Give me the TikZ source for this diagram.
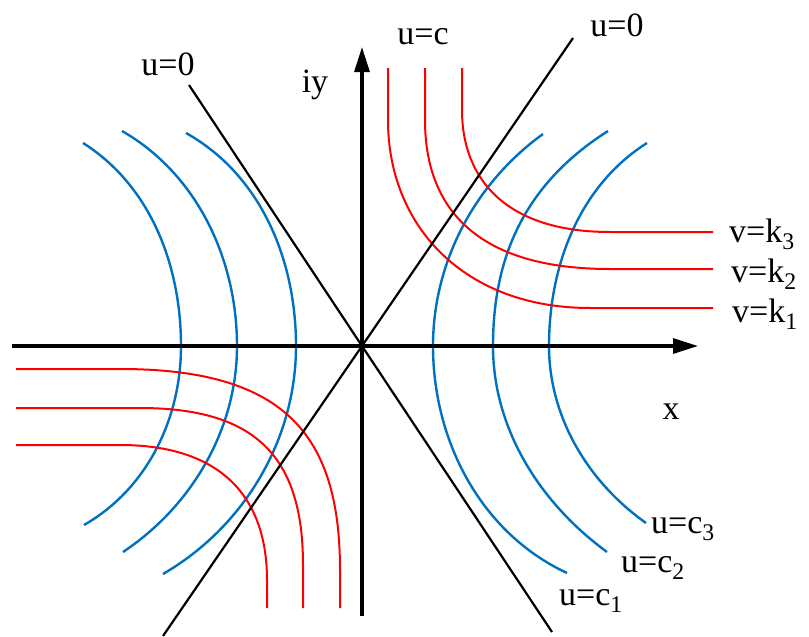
\documentclass[tikz,border=0pt]{standalone}
\usepackage{fontspec}
\setmainfont{Liberation Serif}
\usetikzlibrary{arrows.meta}
\tikzset{
  lbl/.style={inner sep=0pt, font=\fontsize{34pt}{40pt}\selectfont},
  axisline/.style={line width=3.2pt, -{Triangle[length=25pt,width=15pt]}},
  diag/.style={line width=2.2pt, black},
  ucurve/.style={line width=2.4pt, draw=ublue},
  vcurve/.style={line width=2pt, draw=red},
}
\definecolor{ublue}{HTML}{0070C0}
\begin{document}
\begin{tikzpicture}[x=1pt,y=-1pt]
\useasboundingbox (0,0) rectangle (809,637);
% key coordinates
\coordinate (O) at (362,346);
\coordinate (xs) at (12,346);
\coordinate (xt) at (698,346);
\coordinate (ys) at (362,616);
\coordinate (yt) at (362,47);
\coordinate (d1a) at (189,85);
\coordinate (d1b) at (552,632);
\coordinate (d2a) at (573,38);
\coordinate (d2b) at (163,636);
% blue curves u = c
\draw[ucurve] (543,134) .. controls +(-68,49) and +(0,-84) .. (433,346) .. controls +(0,95) and +(-86,-40) .. (567,573);
\draw[ucurve] (608,131) .. controls +(-85,54) and +(0,-87) .. (493,346) .. controls +(0,83) and +(-67,-49) .. (607,552);
\draw[ucurve] (647,143) .. controls +(-68,43) and +(0,-80) .. (549,346) .. controls +(0,71) and +(-58,-41) .. (646,523);
\draw[ucurve] (83,143) .. controls +(68,43) and +(0,-80) .. (181,346) .. controls +(0,73) and +(63,-36) .. (84,525);
\draw[ucurve] (122,131) .. controls +(75,43) and +(0,-87) .. (237,346) .. controls +(0,83) and +(69,-46) .. (123,552);
\draw[ucurve] (186,133) .. controls +(75,42) and +(0,-86) .. (296,346) .. controls +(0,94) and +(81,-47) .. (163,574);
% red curves v = k
\draw[vcurve] (388,68) -- (388,120) .. controls +(0,107) and +(-125,0) .. (590,308) -- (713,308);
\draw[vcurve] (425,68) -- (425,120) .. controls +(0,87) and +(-135,0) .. (610,269) -- (713,269);
\draw[vcurve] (462,68) -- (462,110) .. controls +(0,69) and +(-104,0) .. (610,232) -- (713,232);
\draw[vcurve] (16,369) -- (120,369) .. controls +(163,0) and +(0,-137) .. (340,570) -- (340,608);
\draw[vcurve] (16,408) -- (140,408) .. controls +(116,0) and +(0,-108) .. (303,565) -- (303,608);
\draw[vcurve] (16,445) -- (120,445) .. controls +(100,0) and +(0,-84) .. (267,580) -- (267,608);
% lines u = 0
\draw[diag] (d1a) -- (O) -- (d1b);
\draw[diag] (d2a) -- (O) -- (d2b);
% axes
\draw[axisline] (xs) -- (xt);
\draw[axisline] (ys) -- (yt);
% labels
\node[lbl, anchor=base] (lu0l) at (168,75) {u=0};
\node[lbl, anchor=base] (liy) at (315,92) {iy};
\node[lbl, anchor=base] (luc) at (423,45) {u=c};
\node[lbl, anchor=base] (lu0r) at (617,36) {u=0};
\node[lbl, anchor=base west] (lk3) at (729,242) {v=k\textsubscript{3}};
\node[lbl, anchor=base west] (lk2) at (731,282) {v=k\textsubscript{2}};
\node[lbl, anchor=base west] (lk1) at (732,322) {v=k\textsubscript{1}};
\node[lbl, anchor=base] (lx) at (671,419) {x};
\node[lbl, anchor=base west] (lc3) at (651,533) {u=c\textsubscript{3}};
\node[lbl, anchor=base west] (lc2) at (621,572) {u=c\textsubscript{2}};
\node[lbl, anchor=base west] (lc1) at (559,605) {u=c\textsubscript{1}};
\end{tikzpicture}
\end{document}
